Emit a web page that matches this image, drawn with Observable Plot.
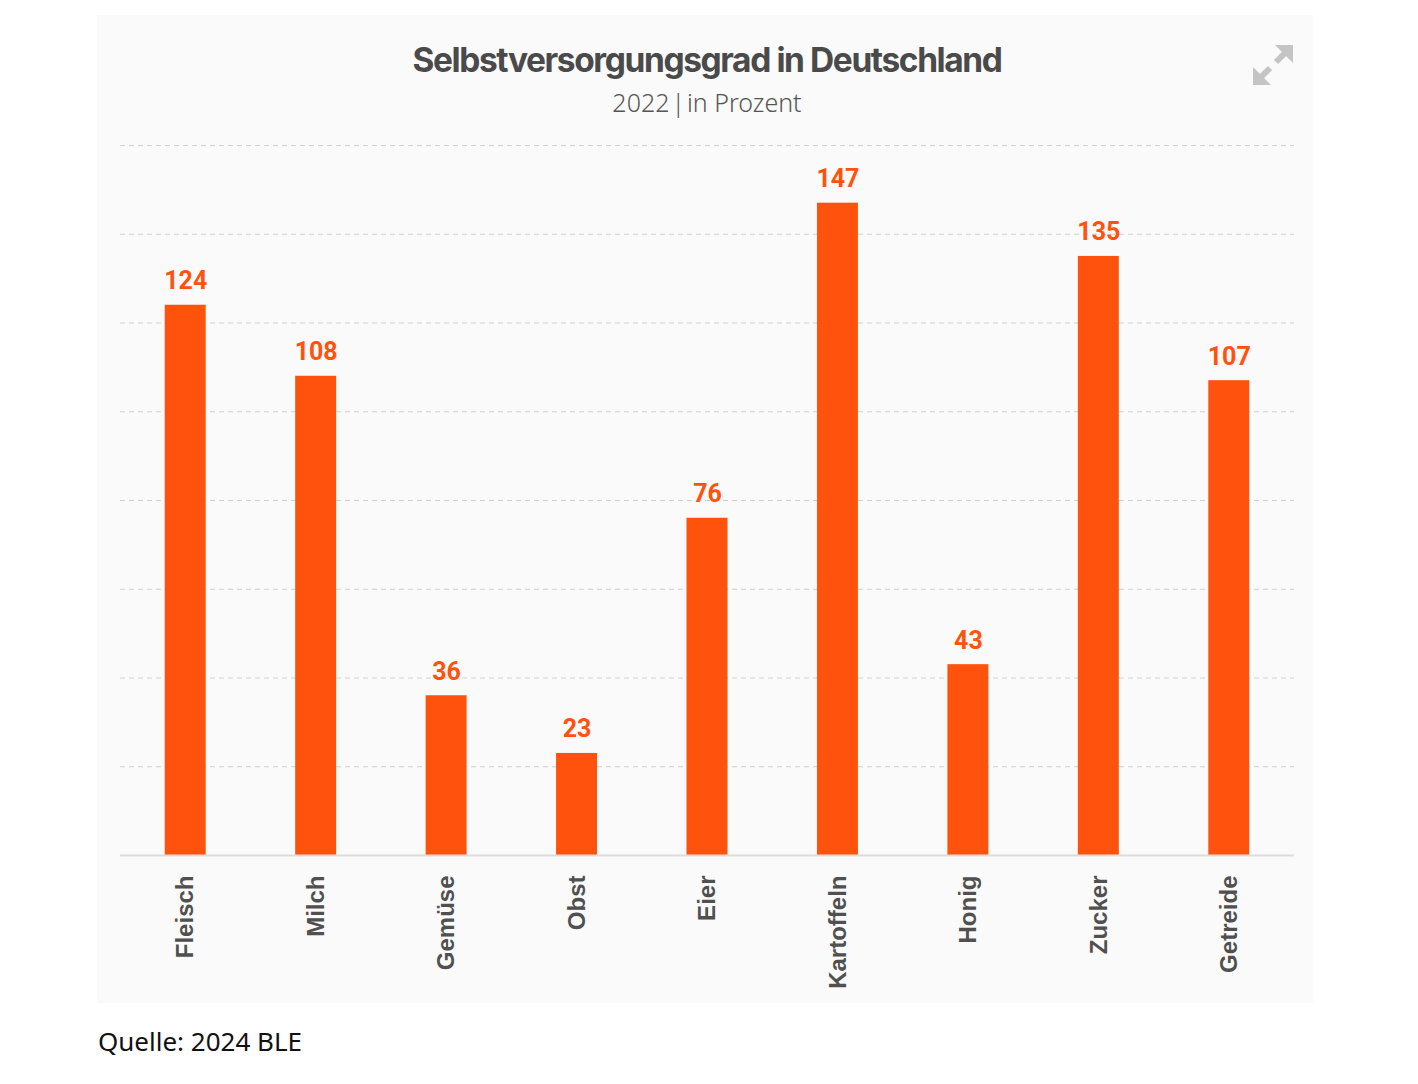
<!DOCTYPE html>
<html>
<head>
<meta charset="utf-8">
<script src="https://cdn.jsdelivr.net/npm/d3@7"></script>
<script src="https://cdn.jsdelivr.net/npm/@observablehq/plot@0.6"></script>
<style>
  html, body { margin: 0; padding: 0; background: #ffffff; width: 1418px; height: 1084px; overflow: hidden; }
  #card { position: absolute; left: 97px; top: 15px; width: 1216px; height: 988px; background: #fafafa; }
  #title { position: absolute; left: 0; top: 40px; width: 1414px; text-align: center; font-family: Inter, sans-serif; font-weight: 700; font-size: 33.5px; letter-spacing: -1.4px; color: #4a4a4a; }
  #subtitle { position: absolute; left: 0; top: 85px; width: 1414px; text-align: center; font-family: "Noto Sans", sans-serif; font-weight: 300; font-size: 25px; color: #555; }
  #chart { position: absolute; left: 0; top: 130px; }
  #caption { position: absolute; left: 98px; top: 1023px; font-family: "Noto Sans", sans-serif; font-size: 26px; color: #111; }
  #icon { position: absolute; left: 1250px; top: 42px; }
</style>
</head>
<body>
<div id="card"></div>
<div id="title">Selbstversorgungsgrad in Deutschland</div>
<div id="subtitle">2022<span style="margin:0 2px">|</span>in Prozent</div>
<svg id="icon" width="46" height="46" viewBox="0 0 46 46">
  <g stroke="#c4c4c4" stroke-width="6" fill="none" stroke-linecap="butt">
    <line x1="20" y1="26" x2="8" y2="38"/>
    <line x1="26" y1="20" x2="38" y2="8"/>
  </g>
  <polygon points="3,25 3,43 21,43" fill="#c4c4c4"/>
  <polygon points="25,3 43,3 43,21" fill="#c4c4c4"/>
</svg>
<div id="chart"></div>
<div id="caption">Quelle: 2024 BLE</div>
<script>
const categories = ["Fleisch", "Milch", "Gemüse", "Obst", "Eier", "Kartoffeln", "Honig", "Zucker", "Getreide"];
const values = [124, 108, 36, 23, 76, 147, 43, 135, 107];
const gridTicks = [20, 40, 60, 80, 100, 120, 140, 160];

const data = categories.map((c, i) => ({ category: c, value: values[i] }));
const orange = "#ff520d";

const plot = Plot.plot({
  width: 1418,
  height: 870,
  marginLeft: 120,
  marginRight: 124,
  marginTop: 15,
  marginBottom: 145,
  style: { background: "transparent", overflow: "visible" },
  x: { domain: categories, paddingInner: 0.686, paddingOuter: 0.343, round: false, axis: null },
  y: { domain: [0, 160], axis: null },
  marks: [
    Plot.ruleY(gridTicks, { stroke: "#cfcfcf", strokeWidth: 1.2, strokeDasharray: "5,4" }),
    Plot.barY(data, { x: "category", y: "value", fill: orange }),
    Plot.ruleY([0], { stroke: "#dcdcdc", strokeWidth: 2 }),
    Plot.text(data, {
      x: "category", y: "value", text: d => String(d.value),
      dy: -16, lineAnchor: "bottom", fill: orange,
      fontFamily: "Roboto, sans-serif", fontWeight: 700, fontSize: 25, letterSpacing: -1
    }),
    Plot.text(data, {
      x: "category", frameAnchor: "bottom", text: "category",
      dy: 20, rotate: -90, textAnchor: "end", lineAnchor: "middle",
      fill: "#505050", fontFamily: "Liberation Sans, Arial, sans-serif", fontWeight: 700, fontSize: 24
    })
  ]
});
document.getElementById("chart").appendChild(plot);
</script>
</body>
</html>
